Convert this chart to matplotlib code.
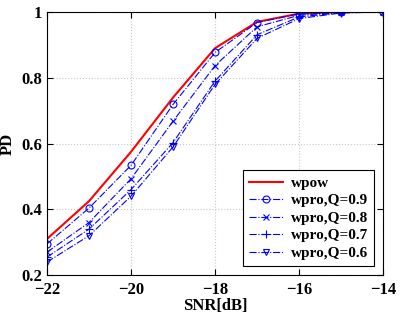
import numpy as np
import matplotlib
matplotlib.use("Agg")
import matplotlib.pyplot as plt

# SNR grid in dB
snr = [-22, -21, -20, -19, -18, -17, -16, -15, -14]

# detection probability curves
pd_wpow = [0.31, 0.425, 0.575, 0.74, 0.89, 0.97, 0.995, 1.0, 1.0]
pd_q09 = [0.295, 0.404, 0.534, 0.719, 0.877, 0.968, 0.995, 1.0, 1.0]
pd_q08 = [0.27, 0.36, 0.493, 0.668, 0.837, 0.955, 0.99, 0.999, 1.0]
pd_q07 = [0.255, 0.34, 0.46, 0.603, 0.79, 0.931, 0.985, 0.998, 1.0]
pd_q06 = [0.24, 0.32, 0.44, 0.59, 0.78, 0.92, 0.98, 0.997, 1.0]

labels = ["wpow", "wpro,Q=0.9", "wpro,Q=0.8", "wpro,Q=0.7", "wpro,Q=0.6"]
x_ticks = [-22, -20, -18, -16, -14]
y_ticks = [0.2, 0.4, 0.6, 0.8, 1.0]
y_ticklabels = ["0.2", "0.4", "0.6", "0.8", "1"]

plt.rcParams['font.family'] = ['Liberation Serif', 'DejaVu Serif']
plt.rcParams['font.weight'] = 'bold'

fig = plt.figure(figsize=(4.05, 3.2), dpi=100)
ax = fig.add_axes([0.116, 0.14, 0.83, 0.8225])

blue = "#0000ff"
ax.plot(snr, pd_wpow, color="red", lw=1.5, label=labels[0])
ax.plot(snr, pd_q09, color=blue, lw=0.8, ls="-.", marker="o", ms=5,
        mfc="none", mew=0.8, label=labels[1])
ax.plot(snr, pd_q08, color=blue, lw=0.8, ls="-.", marker="x", ms=5,
        mew=0.8, label=labels[2])
ax.plot(snr, pd_q07, color=blue, lw=0.8, ls="-.", marker="+", ms=6,
        mew=0.8, label=labels[3])
ax.plot(snr, pd_q06, color=blue, lw=0.8, ls="-.", marker="v", ms=5,
        mfc="none", mew=0.8, label=labels[4])

ax.set_xlim(-22, -14)
ax.set_ylim(0.2, 1.0)
ax.set_xticks(x_ticks)
ax.set_yticks(y_ticks)
ax.set_yticklabels(y_ticklabels)
ax.tick_params(direction="in", top=True, right=True, labelsize=12, length=4)
ax.tick_params(axis="x", pad=5)
for t in ax.get_xticklabels() + ax.get_yticklabels():
    t.set_fontweight("bold")
ax.grid(True, ls=":", color="#c8c8c8", lw=0.8)
for s in ax.spines.values():
    s.set_linewidth(0.8)

ax.set_xlabel("SNR[dB]", fontsize=12, fontweight="bold", labelpad=0)
ax.set_ylabel("PD", fontsize=12, fontweight="bold", labelpad=4)

leg = ax.legend(loc="lower right", fancybox=False,
                edgecolor="black", framealpha=1, handlelength=2.2,
                borderaxespad=0.6, labelspacing=0.25, handletextpad=0.5,
                borderpad=0.4, prop={'weight': 'bold', 'size': 11})
leg.get_frame().set_linewidth(0.8)

fig.savefig("out.png", dpi=100)
